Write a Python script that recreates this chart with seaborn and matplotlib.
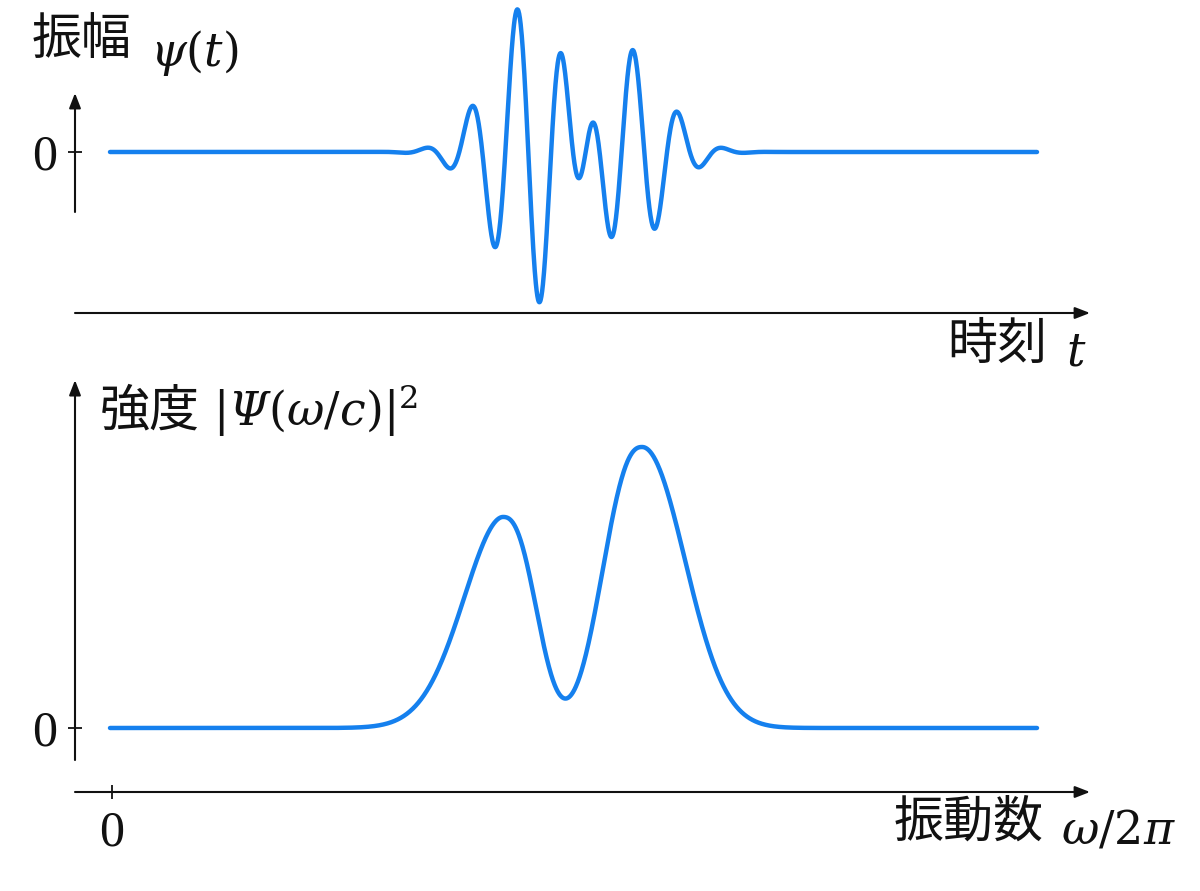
import numpy as np
import matplotlib
matplotlib.use("Agg")
import matplotlib.pyplot as plt
import seaborn as sns

# ---------------------------
# Values
# ---------------------------
# top panel: the pulse is two gaussian wave packets
packet_amp = [1.121, 0.8125]       # peak amplitude
packet_center = [4.261, 5.060]     # envelope centre (time)
packet_width = [0.4126, 0.4028]    # envelope sigma
packet_freq = [2.170, 2.191]       # carrier, cycles per time unit
packet_crest = [4.049, 5.208]      # time of a carrier crest

# bottom panel: two peaks of the spectrum
peak_freq = [3.91, 5.30]
peak_height = [0.751, 1.0]
peak_left_width = [0.57, 0.495]
peak_left_power = [1.9, 2.4]
peak_right_width = [0.415, 0.595]
peak_right_power = [2.5, 2.05]

curve_start, curve_end = -0.02, 9.25

# axis titles: (japanese part, math part)
amp_title = ("振幅", "$\\psi(t)$")
time_title = ("時刻", "$t$")
spec_title = ("強度", "$|𝛹(\\omega/c)|^2$")
freq_title = ("振動数", "$\\omega/2\\pi$")

blue = "#1580ee"
ink = "#111111"

# ---------------------------
# Curves
# ---------------------------
t = np.linspace(curve_start, curve_end, 2500)
psi = np.zeros_like(t)
for a, c, s, f, p in zip(packet_amp, packet_center, packet_width, packet_freq, packet_crest):
    psi += a * np.exp(-(t - c) ** 2 / (2 * s ** 2)) * np.cos(2 * np.pi * f * (t - p))

w = t.copy()
spec = np.zeros_like(w)
for c, h, wl, pl, wr, pr in zip(peak_freq, peak_height, peak_left_width, peak_left_power,
                                peak_right_width, peak_right_power):
    d = w - c
    width = np.where(d < 0, wl, wr)
    power = np.where(d < 0, pl, pr)
    spec += h * np.exp(-(np.abs(d) / width) ** power)

# ---------------------------
# Figure
# ---------------------------
sns.set_theme(style="white")
plt.rcParams["font.family"] = ["Noto Sans CJK JP", "DejaVu Sans"]
plt.rcParams["mathtext.fontset"] = "dejavuserif"

fig = plt.figure(figsize=(12, 8.91), dpi=100)


def px_box(x0, y0, x1, y1):
    return [x0 / 1200, 1 - y1 / 891, (x1 - x0) / 1200, (y1 - y0) / 891]


ax_t = fig.add_axes(px_box(75, 0, 1090, 313))
ax_s = fig.add_axes(px_box(75, 380, 1090, 792))

x_lo, x_hi = -0.37, 9.78
ax_t.set_xlim(x_lo, x_hi)
ax_t.set_ylim(-1.0733, 1.0133)
ax_s.set_xlim(x_lo, x_hi)
ax_s.set_ylim(-0.2278, 1.2384)

sns.lineplot(x=t, y=psi, ax=ax_t, color=blue, linewidth=3.2)
sns.lineplot(x=w, y=spec, ax=ax_s, color=blue, linewidth=3.2)

arrow = dict(arrowstyle="-|>,head_length=0.9,head_width=0.35", color=ink, lw=1.5,
             shrinkA=0, shrinkB=0, mutation_scale=10)

for ax in (ax_t, ax_s):
    for sp in ax.spines.values():
        sp.set_visible(False)
    ax.set_facecolor("none")
    ax.set_xlabel("")
    ax.set_ylabel("")

# axis arrows
y0_t = ax_t.get_ylim()[0]
ax_t.annotate("", xy=(x_hi, y0_t), xytext=(x_lo, y0_t), arrowprops=arrow, annotation_clip=False)
ax_t.annotate("", xy=(x_lo, 0.393), xytext=(x_lo, -0.40), arrowprops=arrow, annotation_clip=False)
y0_s = ax_s.get_ylim()[0]
ax_s.annotate("", xy=(x_hi, y0_s), xytext=(x_lo, y0_s), arrowprops=arrow, annotation_clip=False)
ax_s.annotate("", xy=(x_lo, 1.238), xytext=(x_lo, -0.114), arrowprops=arrow, annotation_clip=False)

# ticks at zero
ax_t.set_xticks([])
ax_t.set_yticks([0])
ax_t.set_yticklabels(["0"])
ax_s.set_xticks([0])
ax_s.set_xticklabels(["0"])
ax_s.set_yticks([0])
ax_s.set_yticklabels(["0"])
for ax in (ax_t, ax_s):
    ax.tick_params(axis="both", direction="inout", length=10, width=1.3, color=ink,
                   labelsize=36, pad=8, labelcolor=ink, left=True, bottom=True,
                   labelfontfamily="Liberation Serif")


# axis titles, japanese words and math set side by side
def axis_title(words, xw, yw, xm, ym, ha):
    fig.text(xw / 1200, 1 - yw / 891, words[0], fontsize=36, ha=ha, va="center", color=ink)
    fig.text(xm / 1200, 1 - ym / 891, words[1], fontsize=33, ha=ha, va="baseline", color=ink)


axis_title(amp_title, 32, 40, 150, 66, "left")
axis_title(time_title, 1047, 345, 1086, 365, "right")
axis_title(spec_title, 100, 412, 213, 426, "left")
axis_title(freq_title, 1044, 823, 1176, 843, "right")

fig.savefig("out.png", dpi=100)
